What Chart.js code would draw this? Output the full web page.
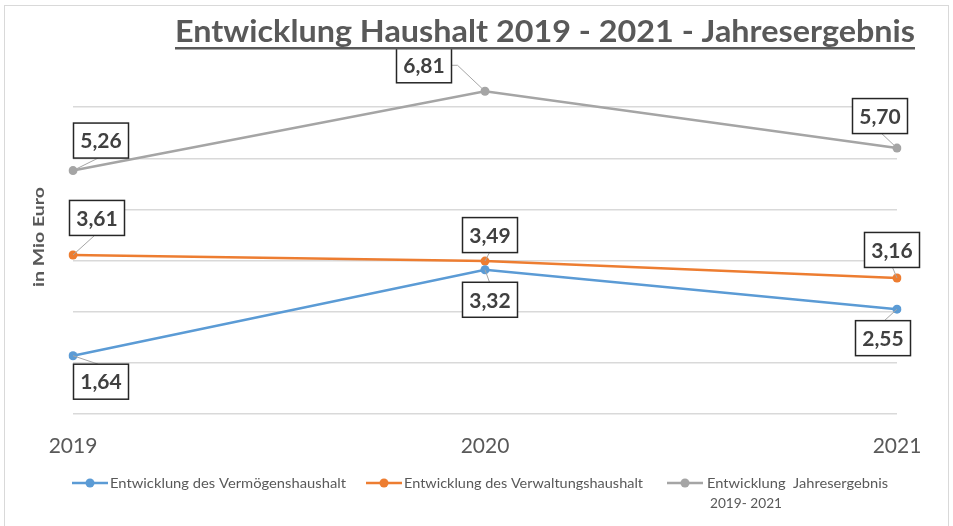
<!DOCTYPE html>
<html>
<head>
<meta charset="utf-8">
<script src="https://cdn.jsdelivr.net/npm/chart.js@4/dist/chart.umd.min.js"></script>
<style>
html,body{margin:0;padding:0;background:#fff;}
#wrap{width:953px;height:526px;position:relative;}
</style>
</head>
<body>
<div id="wrap"><canvas id="c" width="953" height="526"></canvas></div>
<script>
// ---- data ----
const years = ['2019', '2020', '2021'];
const vermoegenshaushalt = [1.64, 3.32, 2.55];
const verwaltungshaushalt = [3.61, 3.49, 3.16];
const jahresergebnis = [5.26, 6.81, 5.70];
const seriesNames = ['Entwicklung des Vermögenshaushalt', 'Entwicklung des Verwaltungshaushalt', 'Entwicklung  Jahresergebnis'];
const seriesNameLine2 = ['', '', '2019- 2021'];
const titleText = 'Entwicklung Haushalt 2019 - 2021 - Jahresergebnis';
const yTitleText = 'in Mio Euro';
const yMin = 0.5, yMax = 7.5, yStep = 1;

// ---- styles ----
const colors = ['#5B9BD5', '#ED7D31', '#A5A5A5'];
const TXT = '#595959';
// label box offsets (box centre relative to point)
const labelOffsets = [
  [[28, 26], [5, 30], [-14, 29]],
  [[24, -37], [5, -26], [-5, -28]],
  [[28, -30], [-61, -26], [-17, -32]]
];
const legendLayout = [
  {lx: 72, tx: 110, w: 236},
  {lx: 366, tx: 404, w: 239},
  {lx: 667, tx: 707, w: 181}
];

function drawFitted(ctx, text, x, y, font, targetW, color) {
  ctx.save();
  ctx.font = font;
  ctx.fillStyle = color;
  ctx.textBaseline = 'alphabetic';
  ctx.textAlign = 'left';
  const w = ctx.measureText(text).width;
  ctx.translate(x, y);
  ctx.scale(targetW / w, 1);
  ctx.fillText(text, 0, 0);
  ctx.restore();
}

const decorPlugin = {
  id: 'decor',
  beforeDraw(chart) {
    const ctx = chart.ctx;
    ctx.save();
    ctx.fillStyle = '#fff';
    ctx.fillRect(0, 0, chart.width, chart.height);
    ctx.strokeStyle = '#d9d9d9';
    ctx.lineWidth = 1;
    ctx.strokeRect(4.5, 5.5, 944, 540);
    ctx.restore();
  },
  afterDraw(chart) {
    const ctx = chart.ctx;
    // title
    drawFitted(ctx, titleText, 175, 42, 'bold 30px Lato', 740, TXT);
    ctx.save();
    ctx.fillStyle = TXT;
    ctx.fillRect(175, 47, 740, 2.5);
    ctx.restore();
    // y title
    ctx.save();
    ctx.translate(44, 287);
    ctx.rotate(-Math.PI / 2);
    drawFitted(ctx, yTitleText, 0, 0, 'bold 16px Lato', 100, TXT);
    ctx.restore();
    // legend
    chart.data.datasets.forEach((ds, i) => {
      const L = legendLayout[i];
      const y = 483;
      ctx.save();
      ctx.strokeStyle = ds.borderColor;
      ctx.lineWidth = 2.5;
      ctx.beginPath();
      ctx.moveTo(L.lx, y);
      ctx.lineTo(L.lx + 36, y);
      ctx.stroke();
      ctx.fillStyle = ds.borderColor;
      ctx.beginPath();
      ctx.arc(L.lx + 18, y, 4.5, 0, Math.PI * 2);
      ctx.fill();
      ctx.restore();
      drawFitted(ctx, seriesNames[i], L.tx, y + 5, '13px Lato', L.w, TXT);
      if (seriesNameLine2[i]) {
        drawFitted(ctx, seriesNameLine2[i], L.tx + 3, y + 25, '13px Lato', 72, TXT);
      }
    });
  },
  afterDatasetsDraw(chart) {
    const ctx = chart.ctx;
    const bw = 55, bh = 35;
    chart.data.datasets.forEach((ds, di) => {
      const meta = chart.getDatasetMeta(di);
      meta.data.forEach((pt, i) => {
        const [dx, dy] = labelOffsets[di][i];
        const px = pt.x, py = pt.y;
        const cx = px + dx, cy = py + dy;
        const l = cx - bw / 2, r = cx + bw / 2, t = cy - bh / 2, b = cy + bh / 2;
        ctx.save();
        ctx.strokeStyle = '#a6a6a6';
        ctx.lineWidth = 1;
        ctx.beginPath();
        ctx.moveTo(px, py);
        if (Math.abs(dx) <= bw / 2 + 2) {
          ctx.lineTo(cx - dx * 0.1, dy < 0 ? b : t);
        } else {
          const ex = dx < 0 ? r : l;
          const sx = dx < 0 ? ex + 6 : ex - 6;
          ctx.lineTo(sx, cy);
          ctx.lineTo(ex, cy);
        }
        ctx.stroke();
        ctx.fillStyle = '#fff';
        ctx.fillRect(l, t, bw, bh);
        ctx.strokeStyle = '#262626';
        ctx.lineWidth = 1.5;
        ctx.strokeRect(l, t, bw, bh);
        ctx.fillStyle = '#404040';
        ctx.font = 'bold 21px Lato';
        ctx.textAlign = 'center';
        ctx.textBaseline = 'middle';
        const txt = ds.data[i].toFixed(2).replace('.', ',');
        ctx.fillText(txt, cx, cy + 1);
        ctx.restore();
      });
    });
  }
};

const mk = (label, data, color) => ({
  label, data,
  borderColor: color, backgroundColor: color,
  borderWidth: 2.5, pointRadius: 4.5, pointHoverRadius: 4.5,
  pointBorderWidth: 0, tension: 0, fill: false
});

new Chart(document.getElementById('c'), {
  type: 'line',
  data: {
    labels: years,
    datasets: [
      mk(seriesNames[0], vermoegenshaushalt, colors[0]),
      mk(seriesNames[1], verwaltungshaushalt, colors[1]),
      mk(seriesNames[2] + ' ' + seriesNameLine2[2], jahresergebnis, colors[2])
    ]
  },
  options: {
    responsive: false,
    animation: false,
    events: [],
    layout: {padding: {left: 73, right: 56, top: 56, bottom: 72}},
    plugins: {legend: {display: false}, title: {display: false}, tooltip: {enabled: false}},
    scales: {
      x: {
        type: 'category',
        offset: false,
        grid: {display: false, drawTicks: false},
        border: {display: false},
        ticks: {color: TXT, font: {family: 'Lato', size: 21}, padding: 20, maxRotation: 0, autoSkip: false},
        afterFit(s) { s.height = 40; }
      },
      y: {
        min: yMin, max: yMax,
        border: {display: false},
        grid: {
          drawTicks: false,
          lineWidth: 1.5,
          color: (c) => (c.tick && c.tick.value >= yMax) ? 'rgba(0,0,0,0)' : '#d9d9d9'
        },
        ticks: {display: false, stepSize: yStep},
        afterFit(s) { s.width = 0; }
      }
    }
  },
  plugins: [decorPlugin]
});
</script>
</body>
</html>
